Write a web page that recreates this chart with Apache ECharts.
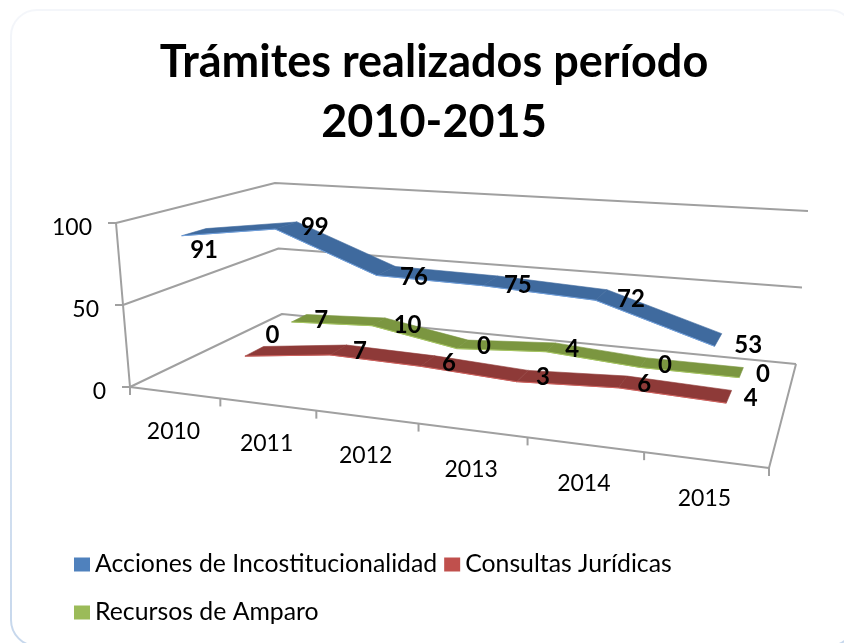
<!DOCTYPE html>
<html><head><meta charset="utf-8">
<style>html,body{margin:0;padding:0;background:#fff}#c{width:844px;height:643px}</style>
<script src="https://cdn.jsdelivr.net/npm/echarts@6/dist/echarts.min.js"></script>
</head><body><div id="c"></div>
<script>
const categories = ['2010','2011','2012','2013','2014','2015'];
const valueTicks = [0,50,100];
const acciones = [91,99,76,75,72,53];
const consultas = [0,7,6,3,6,4];
const recursos = [7,10,0,4,0,0];

// layout of the 3D box (screen corners) and label nudges
const FLOOR = [[130,387],[769,468],[796,364],[282,314]];
const TOP = [[116,223],[778.6,268.3],[808,211],[275,183]];
const labelNudge = {
  a:[[10,18],[28.5,1.6],[27.7,6],[27.4,4.3],[29.6,4],[30,5]],
  c:[[18,-16],[21.5,1],[21,2],[20.5,1],[21.5,2],[21.6,1.4]],
  r:[[22,2],[29,3],[21.5,1.7],[21.5,1.7],[21.7,2.4],[21.7,1.5]]
};
const FONT = 'Lato, Carlito, sans-serif';

function homography(q){
  const [p0,p1,p2,p3]=q;
  const sx=p0[0]-p1[0]+p2[0]-p3[0], sy=p0[1]-p1[1]+p2[1]-p3[1];
  const dx1=p1[0]-p2[0], dx2=p3[0]-p2[0], dy1=p1[1]-p2[1], dy2=p3[1]-p2[1];
  const det=dx1*dy2-dx2*dy1;
  const g=(sx*dy2-dx2*sy)/det, h=(dx1*sy-sx*dy1)/det;
  const a=p1[0]-p0[0]+g*p1[0], b=p3[0]-p0[0]+h*p3[0], c=p0[0];
  const d=p1[1]-p0[1]+g*p1[1], e=p3[1]-p0[1]+h*p3[1], f=p0[1];
  return (u,w)=>{const n=g*u+h*w+1;return [(a*u+b*w+c)/n,(d*u+e*w+f)/n];};
}
const floorMap=homography(FLOOR), topMap=homography(TOP);
function project(u,v,w){
  const A=floorMap(u,w),B=topMap(u,w);
  return [A[0]+(B[0]-A[0])*v, A[1]+(B[1]-A[1])*v];
}
// normalised position from the library's own scales
function norm(api,params,cat,val){
  const p=api.coord([cat,val]), cs=params.coordSys;
  return [(p[0]-cs.x)/cs.width, 1-(p[1]-cs.y)/cs.height];
}
const AXC='#a0a0a0', AXW=2;
const line=(pts,color,width,z2)=>({type:'polyline',shape:{points:pts},silent:true,z2:z2||1,
  style:{stroke:color,lineWidth:width,fill:null,lineJoin:'round'}});
const text=(x,y,s,size,weight,align)=>({type:'text',silent:true,z2:50,
  style:{x,y,text:s,fill:'#000',font:(weight||'normal')+' '+size+'px '+FONT,align:align||'center',verticalAlign:'middle'}});

function wallItem(params,api){
  const val=api.value(0);
  const n=norm(api,params,0,val), v=n[1];
  const kids=[line([project(0,v,0),project(0,v,1),project(1,v,1)],AXC,AXW)];
  const a=project(0,v,0);
  kids.push(line([[a[0]-8,a[1]],a],AXC,AXW));
  kids.push(text(a[0]-24,a[1]+5,String(val),23,'normal','right'));
  return {type:'group',children:kids};
}
function frameItem(params,api){
  return {type:'group',children:[
    line([project(0,1,0),project(0,0,0),project(1,0,0),project(1,0,1)],AXC,AXW)
  ]};
}
function catItem(params,api){
  const i=api.value(0);
  const cs=params.coordSys, band=api.size([1,0])[0];
  const left=(api.coord([i,0])[0]-band/2-cs.x)/cs.width;
  const right=(api.coord([i,0])[0]+band/2-cs.x)/cs.width;
  const mid=(api.coord([i,0])[0]-cs.x)/cs.width;
  const t0=project(left,0,0), m=project(mid,0,0);
  const kids=[line([t0,[t0[0],t0[1]+8]],AXC,AXW),text(m[0]-1,m[1]+39,categories[i],23)];
  if(i===categories.length-1){const t1=project(right,0,0);kids.push(line([t1,[t1[0],t1[1]+8]],AXC,AXW));}
  return {type:'group',children:kids};
}
function ribbon(w0,w1,fillC,edgeC){
  return function(params,api){
    const i=api.value(0);
    if(i>=categories.length-1) return null;
    const a=norm(api,params,i,api.value(1)), b=norm(api,params,i+1,values(params.seriesName)[i+1]);
    const pts=[project(a[0],a[1],w0),project(b[0],b[1],w0),project(b[0],b[1],w1),project(a[0],a[1],w1)];
    return {type:'group',children:[
      {type:'polygon',silent:true,shape:{points:pts},style:{fill:fillC,stroke:fillC,lineWidth:0.6}},
      line([pts[0],pts[1]],edgeC,1,2)
    ]};
  };
}
function values(name){return name===NAMES[0]?acciones:name===NAMES[1]?consultas:recursos;}
const NAMES=['Acciones de Incostitucionalidad','Consultas Jurídicas','Recursos de Amparo'];
function labeller(arr,w,nudge){
  return function(params,api){
    const i=api.value(0);
    const n=norm(api,params,i,api.value(1));
    const p=project(n[0],n[1],w);
    return text(p[0]+nudge[i][0],p[1]+nudge[i][1],String(arr[i]),24,'bold');
  };
}
const rows=arr=>arr.map((v,i)=>[i,v]);
const base={type:'custom',coordinateSystem:'cartesian2d',silent:true,animation:false,clip:false};
const legendBase={left:74,padding:0,itemWidth:16,itemHeight:14,itemGap:7,icon:'rect',selectedMode:false,
    textStyle:{fontFamily:FONT,fontSize:24.8,color:'#000'}};
const chart=echarts.init(document.getElementById('c'));
chart.setOption({
  animation:false,
  backgroundColor:'#fff',
  title:{text:'Trámites realizados período\n2010-2015',left:429,top:28,
    textAlign:'center',
    textStyle:{fontFamily:FONT,fontWeight:'bold',fontSize:45,lineHeight:59.5,color:'#000'}},
  legend:[
    Object.assign({},legendBase,{top:552,data:[NAMES[0],NAMES[1]]}),
    Object.assign({},legendBase,{top:600,data:[NAMES[2]]})
  ],
  grid:{left:0,right:0,top:0,bottom:0},
  xAxis:{type:'category',data:categories,show:false},
  yAxis:{type:'value',min:0,max:100,interval:50,show:false},
  graphic:[{type:'rect',silent:true,z:-1,shape:{x:11,y:10,width:844,height:636,r:26},
    style:{fill:'#fff',lineWidth:2,stroke:new echarts.graphic.LinearGradient(0,0,0,1,[
      {offset:0,color:'#f4f6fa'},{offset:0.4,color:'#e3ebf5'},{offset:1,color:'#c6d7ec'}])}}],
  series:[
    Object.assign({},base,{name:'walls',z:2,data:valueTicks.map(v=>[v]),encode:{x:-1,y:0},renderItem:wallItem}),
    Object.assign({},base,{name:'frame',z:2,data:[[0]],renderItem:frameItem}),
    Object.assign({},base,{name:'cats',z:2,data:categories.map((c,i)=>[i]),renderItem:catItem}),
    Object.assign({},base,{name:NAMES[2],z:3,itemStyle:{color:'#9bbb59'},data:rows(recursos),renderItem:ribbon(0.775,0.895,'#7b9640','#a6c660')}),
    Object.assign({},base,{name:NAMES[1],z:4,itemStyle:{color:'#c0504d'},data:rows(consultas),renderItem:ribbon(0.43,0.56,'#8e3a38','#d0605c')}),
    Object.assign({},base,{name:NAMES[0],z:5,itemStyle:{color:'#4f81bd'},data:rows(acciones),renderItem:ribbon(0.10,0.24,'#3f6a9e','#6f9fdc')}),
    Object.assign({},base,{name:'la',z:9,data:rows(acciones),renderItem:labeller(acciones,0.17,labelNudge.a)}),
    Object.assign({},base,{name:'lc',z:9,data:rows(consultas),renderItem:labeller(consultas,0.495,labelNudge.c)}),
    Object.assign({},base,{name:'lr',z:9,data:rows(recursos),renderItem:labeller(recursos,0.835,labelNudge.r)})
  ]
});
</script></body></html>
